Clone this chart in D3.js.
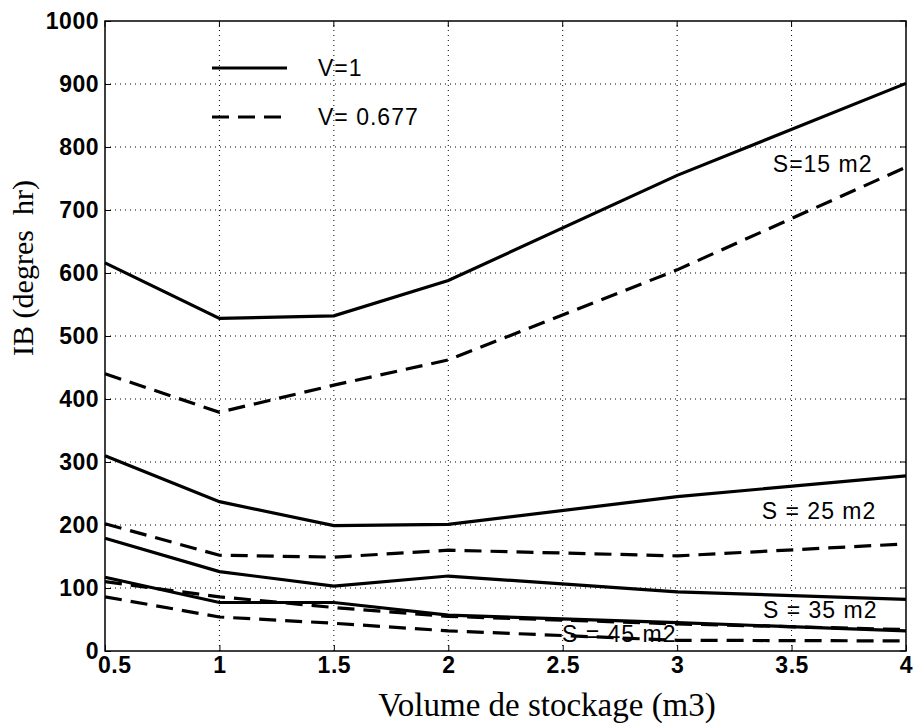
<html>
<head>
<script src="https://cdn.jsdelivr.net/npm/d3@7"></script>
<style>
  body { margin: 0; background: #fff; }
  text { fill: #000; }
</style>
</head>
<body>
<script>
var width = 915, height = 726;
var margin = { left: 105, right: 9, top: 21, bottom: 75 };

// volume de stockage (m3)
var volumes = [0.5, 1, 1.5, 2, 3, 4];
// IB (degres hr) for each surface, V=1 (solid) and V=0.677 (dashed)
var s15_v1 = [616, 528, 532, 588, 755, 901];
var s15_v0677 = [440, 379, 422, 462, 605, 768];
var s25_v1 = [310, 237, 199, 201, 245, 278];
var s25_v0677 = [202, 152, 149, 160, 151, 170];
var s35_v1 = [179, 126, 103, 119, 94, 82];
var s35_v0677 = [110, 86, 69, 55, 43, 34];
var s45_v1 = [117, 77, 77, 57, 45, 32];
var s45_v0677 = [86, 54, 44, 32, 17, 16];

var xTicks = [0.5, 1, 1.5, 2, 2.5, 3, 3.5, 4];
var yTicks = [0, 100, 200, 300, 400, 500, 600, 700, 800, 900, 1000];

var series = [
  { values: s15_v1, dashed: false },
  { values: s15_v0677, dashed: true },
  { values: s25_v1, dashed: false },
  { values: s25_v0677, dashed: true },
  { values: s35_v1, dashed: false },
  { values: s35_v0677, dashed: true },
  { values: s45_v1, dashed: false },
  { values: s45_v0677, dashed: true }
];

var labels = [
  { text: "S=15 m2", x: 3.418, y: 760 },
  { text: "S = 25 m2", x: 3.37, y: 209 },
  { text: "S = 35 m2", x: 3.375, y: 52 },
  { text: "S = 45 m2", x: 2.497, y: 14 }
];

const svg = d3.select("body").append("svg")
  .attr("width", width)
  .attr("height", height);

var xScale = d3.scaleLinear([0.5, 4], [margin.left, width - margin.right]);
var yScale = d3.scaleLinear([0, 1000], [height - margin.bottom, margin.top]);

// grid
var grid = svg.append("g").attr("class", "grid")
  .attr("stroke", "#000").attr("stroke-width", 1).attr("stroke-dasharray", "1,4");
grid.selectAll("line.gx").data(xTicks.slice(1, -1)).join("line")
  .attr("x1", d => xScale(d)).attr("x2", d => xScale(d))
  .attr("y1", yScale(0)).attr("y2", yScale(1000));
grid.selectAll("line.gy").data(yTicks.slice(1, -1)).join("line")
  .attr("y1", d => yScale(d)).attr("y2", d => yScale(d))
  .attr("x1", xScale(0.5)).attr("x2", xScale(4));

// axes with ticks pointing inward
var tickFont = "bold 23px 'Liberation Sans', Arial, sans-serif";
var xAxis = d3.axisBottom(xScale).tickValues(xTicks).tickSize(-6).tickSizeOuter(0)
  .tickFormat(d3.format("~g")).tickPadding(6);
var yAxis = d3.axisLeft(yScale).tickValues(yTicks).tickSize(-6).tickSizeOuter(0)
  .tickFormat(d3.format("d")).tickPadding(6);

var gx = svg.append("g").attr("transform", `translate(0,${yScale(0)})`).call(xAxis);
var gy = svg.append("g").attr("transform", `translate(${xScale(0.5)},0)`).call(yAxis);
[gx, gy].forEach(g => {
  g.select(".domain").remove();
  g.selectAll("text").style("font", tickFont).attr("letter-spacing", "0.5px");
});
gx.selectAll(".tick").filter(d => d === 0.5).select("text").attr("dx", "0.4em");

// top/right ticks
svg.append("g").selectAll("line").data(xTicks).join("line")
  .attr("x1", d => xScale(d)).attr("x2", d => xScale(d))
  .attr("y1", yScale(1000)).attr("y2", yScale(1000) + 6).attr("stroke", "#000");
svg.append("g").selectAll("line").data(yTicks).join("line")
  .attr("y1", d => yScale(d)).attr("y2", d => yScale(d))
  .attr("x1", xScale(4)).attr("x2", xScale(4) - 6).attr("stroke", "#000");

// frame
svg.append("rect")
  .attr("x", xScale(0.5)).attr("y", yScale(1000))
  .attr("width", xScale(4) - xScale(0.5)).attr("height", yScale(0) - yScale(1000))
  .attr("fill", "none").attr("stroke", "#000").attr("stroke-width", 1.5);

// curves
var line = d3.line().x((d, i) => xScale(volumes[i])).y(d => yScale(d));
svg.append("g").selectAll("path").data(series).join("path")
  .attr("d", d => line(d.values))
  .attr("fill", "none")
  .attr("stroke", "#000")
  .attr("stroke-width", 3.2)
  .attr("stroke-dasharray", d => d.dashed ? "17,9" : null);

// surface labels
svg.append("g").selectAll("text").data(labels).join("text")
  .attr("x", d => xScale(d.x)).attr("y", d => yScale(d.y))
  .style("font", "23px 'Liberation Sans', Arial, sans-serif")
  .attr("letter-spacing", "1px")
  .text(d => d.text);

// legend
var legend = [{ text: "V=1", dashed: false }, { text: "V= 0.677", dashed: true }];
var lg = svg.append("g").selectAll("g").data(legend).join("g")
  .attr("transform", (d, i) => `translate(212,${68 + i * 49})`);
lg.append("line").attr("x1", 0).attr("x2", 75)
  .attr("stroke", "#000").attr("stroke-width", 3.2)
  .attr("stroke-dasharray", d => d.dashed ? "17,9" : null);
lg.append("text").attr("x", 106).attr("dy", "0.35em")
  .style("font", "23px 'Liberation Sans', Arial, sans-serif")
  .attr("letter-spacing", "1px")
  .text(d => d.text);

// axis titles
svg.append("text")
  .attr("x", 547).attr("y", 716)
  .attr("text-anchor", "middle")
  .style("font", "33px 'Liberation Serif', 'Times New Roman', serif")
  .text("Volume de stockage (m3)");

svg.append("text")
  .attr("transform", "translate(33,268) rotate(-90)")
  .attr("text-anchor", "middle")
  .style("font", "30px 'Liberation Serif', 'Times New Roman', serif")
  .style("white-space", "pre")
  .text("IB (degres  hr)");
</script>
</body>
</html>
